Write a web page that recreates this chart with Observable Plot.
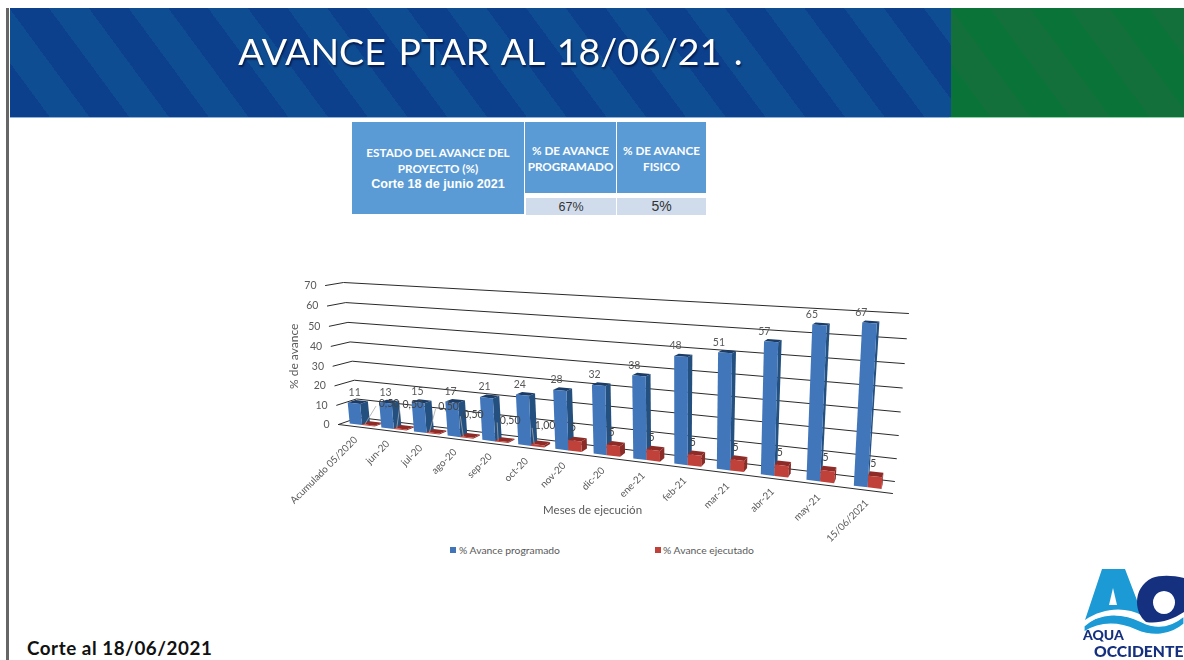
<!DOCTYPE html>
<html lang="es">
<head>
<meta charset="utf-8">
<title>Avance PTAR</title>
<script src="https://cdn.jsdelivr.net/npm/d3@7"></script>
<script src="https://cdn.jsdelivr.net/npm/@observablehq/plot@0.6"></script>
<style>
  html, body { margin: 0; padding: 0; background: #fff; }
  body { position: relative; width: 1184px; height: 660px; overflow: hidden; font-family: Lato, sans-serif; }
  .abs { position: absolute; }
  #rail { left: 6px; top: 8px; width: 3px; height: 652px; background: #666; }
  #blue { left: 10px; top: 8px; width: 941px; height: 109px;
    background: repeating-linear-gradient(53.6deg, #0c408d 0 32px, #0f4d92 32px 64px); }
  #green { left: 951px; top: 8px; width: 233px; height: 109px;
    background: repeating-linear-gradient(53.6deg, #0a7338 0 32px, #13703a 32px 64px); }
  #edge { left: 10px; top: 117px; width: 1174px; height: 1px; background: linear-gradient(90deg,#8fb0d4 0 80%,#8fcfa8 80%); }
  #title { left: 10px; top: 28px; width: 961px; text-align: center; color: #fff; font: 400 37.5px Lato, sans-serif;
    word-spacing: 3px; text-shadow: 1px 2px 2px rgba(0,0,30,.6); white-space: pre; filter: blur(.3px); }
  .cell { background: #5b9bd5; color: #fff; font: 700 11.7px/16px Lato, sans-serif; text-align: center; display: flex; align-items: center; justify-content: center; flex-direction: column; padding-top: 1px; box-sizing: border-box; }
  .val { background: #d0dcec; color: #333; font: 400 12.5px "Liberation Sans", sans-serif; text-align: center; }
  #footer { left: 27px; top: 636px; font: 700 18.8px Lato, sans-serif; letter-spacing: .55px; color: #111; }
  .lg { top: 544px; font: 400 10.35px Lato, sans-serif; color: #595959; white-space: nowrap; }
  .sw { top: 547px; width: 6px; height: 6px; }
  #chart { left: 270px; top: 270px; filter: blur(0.35px); }
  #chart svg { display: block; overflow: visible; }
</style>
</head>
<body>
<div class="abs" id="rail"></div>
<div class="abs" id="blue"></div>
<div class="abs" id="green"></div>
<div class="abs" id="edge"></div>
<div class="abs" id="title">AVANCE PTAR AL 18/06/21 .</div>

<div class="abs cell" style="left:352px;top:122px;width:172px;height:92px">
  <span>ESTADO DEL AVANCE DEL</span><span>PROYECTO (%)</span>
  <span style="font:700 12.6px/17px 'Liberation Sans',sans-serif">Corte 18 de junio 2021</span>
</div>
<div class="abs cell" style="left:525px;top:122px;width:91px;height:71px"><span>% DE AVANCE</span><span>PROGRAMADO</span></div>
<div class="abs cell" style="left:617px;top:122px;width:89px;height:71px"><span>% DE AVANCE</span><span>FISICO</span></div>
<div class="abs val" style="left:526px;top:198px;width:90px;height:17px;line-height:18px">67%</div>
<div class="abs val" style="left:617px;top:198px;width:89px;height:17px;line-height:16px;font-size:14px">5%</div>

<div class="abs" id="chart"></div>

<div class="abs sw" style="left:450px;background:#4275b8"></div>
<div class="abs lg" style="left:459px">% Avance programado</div>
<div class="abs sw" style="left:655px;background:#c0413a"></div>
<div class="abs lg" style="left:663px">% Avance ejecutado</div>

<div class="abs" id="footer">Corte al 18/06/2021</div>

<svg class="abs" style="left:1080px;top:565px;filter:blur(.3px)" width="104" height="95" viewBox="1080 565 104 95">
  <path d="M1102 569 H1125 L1143 616 C1125 606 1103 608 1085 620 Z" fill="#1b9ad6"/>
  <path d="M1113 588 L1109 605 H1117 Z" fill="#fff"/>
  <path fill-rule="evenodd" fill="#14307f" d="M1184 578 C1172 575 1160 575 1152 578 C1142 583 1137 592 1137 602 C1137 610 1140 617 1146 622 C1158 624 1172 620 1184 612 Z M1164 591 a11 11.5 0 1 0 .01 0 Z"/>
  <path d="M1084 626 C1100 612 1122 612 1142 622 C1158 630 1172 626 1184 616 V624 C1170 636 1152 637 1136 630 C1118 622 1100 622 1084 632 Z" fill="#1b9ad6" stroke="#fff" stroke-width="1.2"/>
  <text x="1083" y="640" font-family="Lato, sans-serif" font-weight="900" font-size="14" fill="#14307f">AQUA</text>
  <text x="1094" y="656.5" font-family="Lato, sans-serif" font-weight="900" font-size="15.7" fill="#14307f">OCCIDENTE</text>
</svg>

<script>
// ---- chart values ----
const categories = ["Acumulado 05/2020","jun-20","jul-20","ago-20","sep-20","oct-20","nov-20","dic-20","ene-21","feb-21","mar-21","abr-21","may-21","15/06/2021"];
const programado = [11,13,15,17,21,24,28,32,38,48,51,57,65,67];
const ejecutado  = [0.5,0.5,0.5,0.5,0.5,1,5,5,5,5,5,5,5,5];
const yTicks = [0,10,20,30,40,50,60,70];
const yTitle = "% de avance";
const xTitle = "Meses de ejecución";

// ---- perspective of the 3-D box (page pixels of its eight corners) ----
const vMax = 70;
function homography(p00, p10, p11, p01) {
  const dx1 = p10[0]-p11[0], dx2 = p01[0]-p11[0], sx = p00[0]-p10[0]+p11[0]-p01[0];
  const dy1 = p10[1]-p11[1], dy2 = p01[1]-p11[1], sy = p00[1]-p10[1]+p11[1]-p01[1];
  const den = dx1*dy2-dx2*dy1, g = (sx*dy2-dx2*sy)/den, h = (dx1*sy-sx*dy1)/den;
  const a = p10[0]-p00[0]+g*p10[0], b = p01[0]-p00[0]+h*p01[0];
  const d = p10[1]-p00[1]+g*p10[1], e = p01[1]-p00[1]+h*p01[1];
  return (u, v) => { const w = g*u+h*v+1; return [(a*u+b*v+p00[0])/w, (d*u+e*v+p00[1])/w]; };
}
const frontPlane = homography([338,424],[892,493],[902,318],[325,285]);
const backPlane  = homography([358,417],[894,481],[908,313],[343,282]);
function project(u, value, z) {
  const f = frontPlane(u, value/vMax), b = backPlane(u, value/vMax);
  return {px: f[0]+(b[0]-f[0])*z, py: f[1]+(b[1]-f[1])*z};
}

// ---- bar geometry ----
const n = categories.length, startShift = 0.2, zFront = 0.25, zBack = 0.65;
const slotU = i => (i+startShift)/n;
function barU(i) {
  const slotPx = project(slotU(i+1),0,zFront).px - project(slotU(i),0,zFront).px;
  const du = (12.5 + 1.5*i/(n-1)) / slotPx / n;
  return [slotU(i), slotU(i)+du, slotU(i)+2*du];
}
const palette = {
  prog: {front:"#4176bb", side:"#24507f", top:"#1b3c66"},
  ejec: {front:"#c0413a", side:"#8a2c28", top:"#8f2b27"}
};
const faces = [];
function addFace(id, colour, corners) {
  for (const [u,v,z] of corners) faces.push({face:id, colour, ...project(u,v,z)});
}
function addBar(id, u0, u1, v, c) {
  addFace(id+"s", c.side, [[u1,0,zFront],[u1,0,zBack],[u1,v,zBack],[u1,v,zFront]]);
  addFace(id+"t", c.top, [[u0,v,zFront],[u1,v,zFront],[u1,v,zBack],[u0,v,zBack]]);
  addFace(id+"f", c.front, [[u0,0,zFront],[u1,0,zFront],[u1,v,zFront],[u0,v,zFront]]);
}
categories.forEach((_, i) => {
  const [a,b,c] = barU(i);
  addBar("p"+i, a, b, programado[i], palette.prog);
  addBar("e"+i, b, c, ejecutado[i], palette.ejec);
});

// ---- gridlines ----
const walls = [];
yTicks.forEach(t => {
  walls.push({id:t, ...project(0,t,0)}, {id:t, ...project(0,t,1)}, {id:t, ...project(1,t,1)});
});
walls.push({id:"floor", ...project(0,0,0)}, {id:"floor", ...project(1,0,0)});

// ---- labels ----
const ink = "#595959";
const progLabels = programado.map((v,i) => {
  const p = project(barU(i)[0], v, zFront);
  return {...p, px: p.px + 7 - 8*i/(n-1), py: p.py - 10, text: String(v)};
});
// callout shifts for the tiny bars, whose labels sit apart from the bar
const calloutShift = [[27,-20],[19,-23],[22,-25],[13,-22],[15,-20],[14,-18]];
const fmt = v => v.toFixed(2).replace(".", ",");
const ejecLabels = [], leaders = [];
ejecutado.forEach((v,i) => {
  const u = barU(i), p = project(u[1], v, zFront);
  if (v >= 5) { ejecLabels.push({px:p.px+5, py:p.py-12, text:String(v)}); return; }
  const [dx,dy] = calloutShift[i];
  ejecLabels.push({px:p.px+dx, py:p.py+dy, text:fmt(v)});
  leaders.push({x1:p.px+3, y1:p.py, x2:p.px+dx-13, y2:p.py+dy+2});
});
const axisLabels = yTicks.map(t => ({...project(0,t,0), text:String(t)}));
const catLabels = categories.map((c,i) => {
  const p = project(barU(i)[0],0,0);
  return {px:p.px+11+ (i/(n-1))*3, py:p.py+13, text:c};
});
const yTitlePos = project(0,35,0), xTitlePos = project(0.5,0,0);

const plot = Plot.plot({
  width: 660, height: 290, margin: 0,
  x: {domain:[270,930], range:[0,660], axis:null},
  y: {domain:[270,560], range:[0,290], axis:null},
  color: {type:"identity"},
  style: {fontFamily:"Lato, sans-serif", background:"transparent"},
  marks: [
    Plot.line(walls, {x:"px", y:"py", z:"id", stroke:"#2a2a2a", strokeWidth:1}),
    Plot.line(faces, {x:"px", y:"py", z:"face", fill:"colour", stroke:"none"}),
    Plot.link(leaders, {x1:"x1", y1:"y1", x2:"x2", y2:"y2", stroke:"#a6a6a6", strokeWidth:0.8}),
    Plot.text(progLabels, {x:"px", y:"py", text:"text", fill:ink, fontSize:10.5}),
    Plot.text(ejecLabels, {x:"px", y:"py", text:"text", fill:"#444", fontSize:10.5}),
    Plot.text(axisLabels, {x:"px", y:"py", text:"text", fill:ink, fontSize:10.5, textAnchor:"end", dx:-9}),
    Plot.text(catLabels, {x:"px", y:"py", text:"text", fill:ink, fontSize:9.9, textAnchor:"end", rotate:-45}),
    Plot.text([yTitle], {x:()=>yTitlePos.px, y:()=>yTitlePos.py, text:d=>d, dx:-38, fill:ink, fontSize:12, rotate:-90}),
    Plot.text([xTitle], {x:()=>xTitlePos.px, y:()=>xTitlePos.py, text:d=>d, dx:10, dy:55, fill:ink, fontSize:11.5})
  ]
});
document.getElementById("chart").append(plot);
</script>
</body>
</html>
